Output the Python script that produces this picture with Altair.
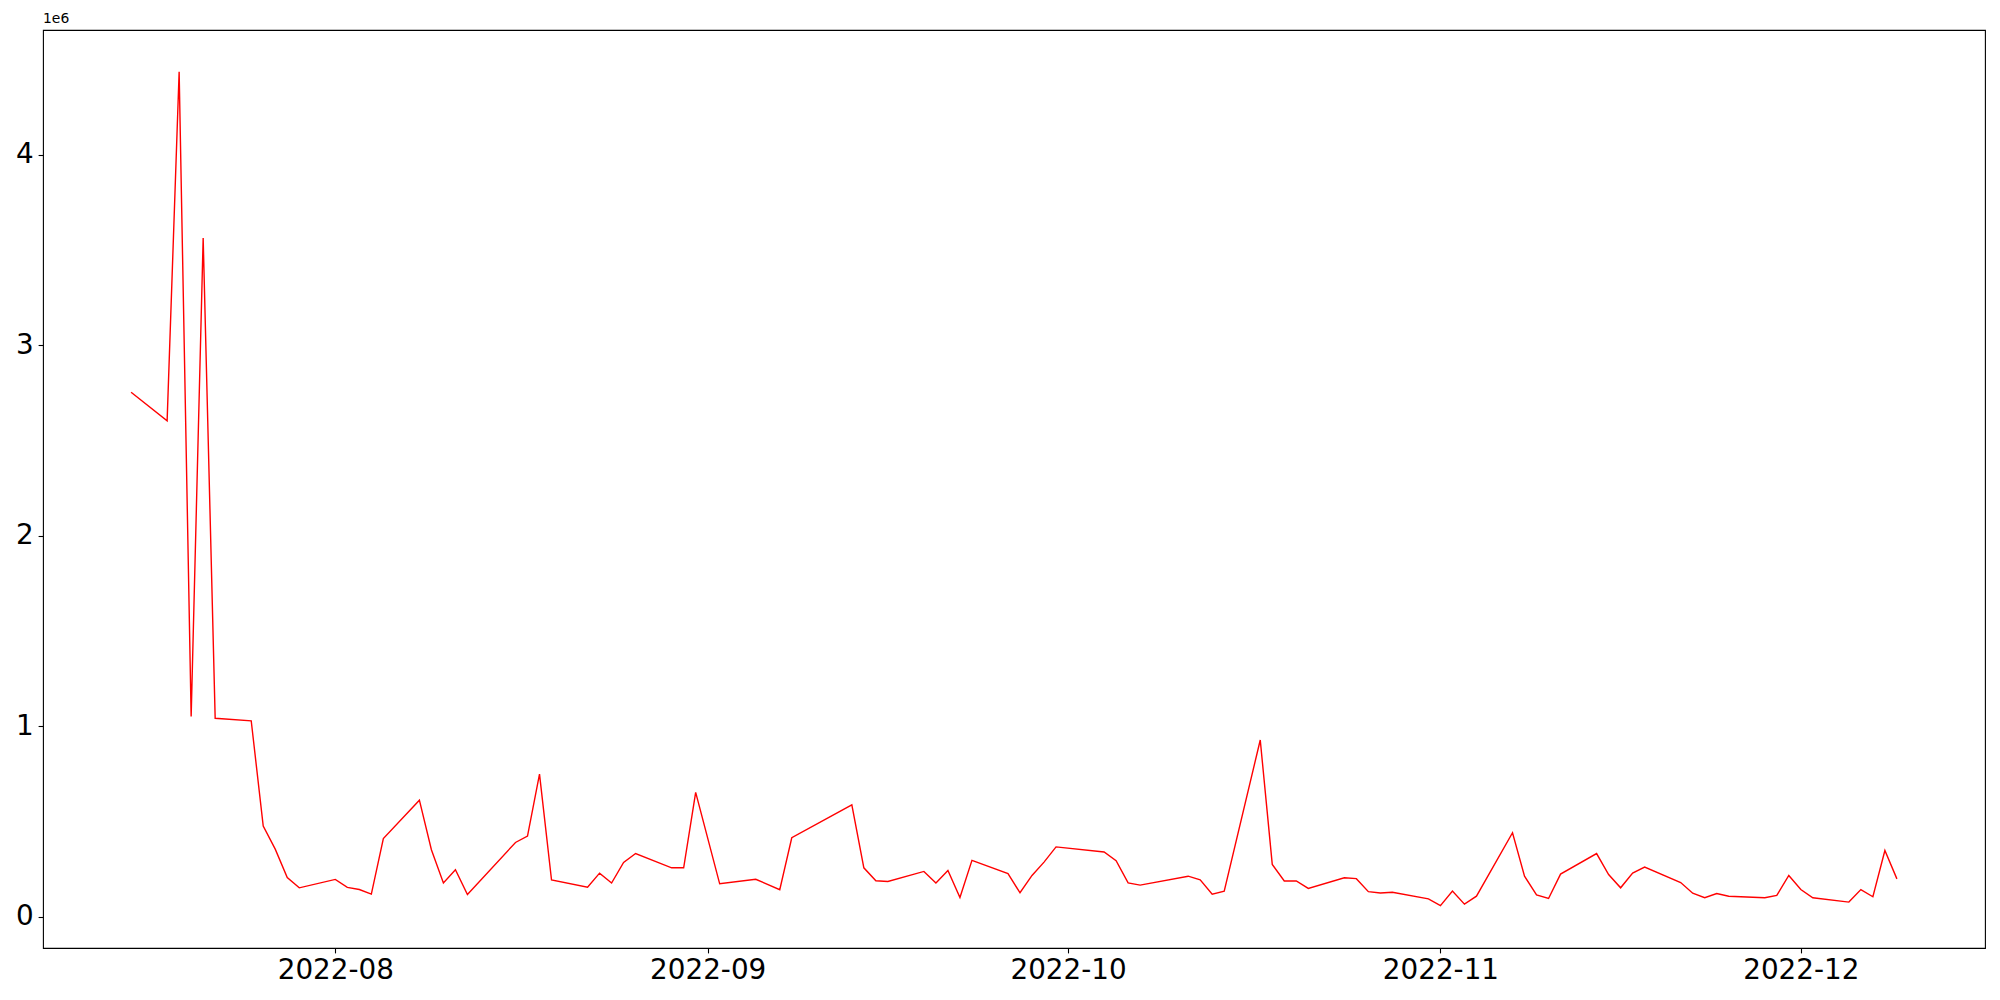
import altair as alt
import pandas as pd

dates = [
    "2022-07-15", "2022-07-18", "2022-07-19", "2022-07-20", "2022-07-21", "2022-07-22",
    "2022-07-25", "2022-07-26", "2022-07-27", "2022-07-28", "2022-07-29",
    "2022-08-01", "2022-08-02", "2022-08-03", "2022-08-04", "2022-08-05",
    "2022-08-08", "2022-08-09", "2022-08-10", "2022-08-11", "2022-08-12",
    "2022-08-16", "2022-08-17", "2022-08-18", "2022-08-19",
    "2022-08-22", "2022-08-23", "2022-08-24", "2022-08-25", "2022-08-26",
    "2022-08-29", "2022-08-30", "2022-08-31", "2022-09-02",
    "2022-09-05", "2022-09-07", "2022-09-08",
    "2022-09-13", "2022-09-14", "2022-09-15", "2022-09-16",
    "2022-09-19", "2022-09-20", "2022-09-21", "2022-09-22", "2022-09-23",
    "2022-09-26", "2022-09-27", "2022-09-28", "2022-09-29", "2022-09-30",
    "2022-10-04", "2022-10-05", "2022-10-06", "2022-10-07",
    "2022-10-11", "2022-10-12", "2022-10-13", "2022-10-14",
    "2022-10-17", "2022-10-18", "2022-10-19", "2022-10-20", "2022-10-21",
    "2022-10-24", "2022-10-25", "2022-10-26", "2022-10-27", "2022-10-28",
    "2022-10-31", "2022-11-01", "2022-11-02", "2022-11-03", "2022-11-04",
    "2022-11-07", "2022-11-08", "2022-11-09", "2022-11-10", "2022-11-11",
    "2022-11-14", "2022-11-15", "2022-11-16", "2022-11-17", "2022-11-18",
    "2022-11-21", "2022-11-22", "2022-11-23", "2022-11-24", "2022-11-25",
    "2022-11-28", "2022-11-29", "2022-11-30", "2022-12-01", "2022-12-02",
    "2022-12-05", "2022-12-06", "2022-12-07", "2022-12-08", "2022-12-09",
]

values = [
    2754000, 2604000, 4437000, 1051000, 3564000, 1042000,
    1029000, 476000, 355000, 206000, 152000,
    196000, 154000, 143000, 119000, 411000,
    612000, 352000, 178000, 247000, 117000,
    390000, 424000, 749000, 193000,
    155000, 229000, 177000, 285000, 332000,
    257000, 257000, 653000, 173000,
    197000, 142000, 415000,
    588000, 257000, 189000, 185000,
    238000, 177000, 243000, 101000, 296000,
    227000, 126000, 217000, 287000, 367000,
    340000, 294000, 178000, 166000,
    213000, 194000, 119000, 135000,
    928000, 275000, 188000, 188000, 149000,
    205000, 200000, 132000, 125000, 129000,
    94000, 58000, 135000, 66000, 108000,
    441000, 213000, 115000, 96000, 224000,
    332000, 222000, 152000, 229000, 261000,
    180000, 124000, 100000, 122000, 108000,
    100000, 112000, 217000, 143000, 100000,
    77000, 143000, 105000, 348000, 199000,
]

y_ticks = [0, 1000000, 2000000, 3000000, 4000000]
x_tick_months = [8, 9, 10, 11, 12]

df = pd.DataFrame({"date": dates, "value": values})

FONT = "DejaVu Sans"

x_axis = alt.Axis(
    values=[alt.DateTime(year=2022, month=m, date=1, utc=True) for m in x_tick_months],
    labelExpr="utcFormat(datum.value, '%Y-%m')",
    title=None, grid=False, domain=False,
    ticks=True, tickSize=4.9, tickWidth=1.1, tickColor="black",
    labelFontSize=27.8, labelFont=FONT, labelColor="black",
    labelPadding=4, labelFlush=False,
)

y_axis = alt.Axis(
    values=y_ticks,
    labelExpr="format(datum.value / 1000000, 'd')",
    title=None, grid=False, domain=False,
    ticks=True, tickSize=4.9, tickWidth=1.1, tickColor="black",
    labelFontSize=27.8, labelFont=FONT, labelColor="black",
    labelPadding=5, labelFlush=False,
)

chart = (
    alt.Chart(df)
    .mark_line(color="#ff0000", strokeWidth=1.4)
    .encode(
        x=alt.X(
            "date:T",
            scale=alt.Scale(
                type="utc",
                domain=[
                    alt.DateTime(year=2022, month=7, date=7, hours=16, utc=True),
                    alt.DateTime(year=2022, month=12, date=16, hours=8, utc=True),
                ],
                nice=False,
            ),
            axis=x_axis,
        ),
        y=alt.Y(
            "value:Q",
            scale=alt.Scale(domain=[-164000, 4656000], nice=False, zero=False),
            axis=y_axis,
        ),
    )
    .properties(
        width=1942,
        height=918,
        padding={"left": 35, "top": 22, "right": 5, "bottom": 42},
        autosize=alt.AutoSizeParams(type="none"),
        background="white",
        title=alt.TitleParams(
            "1e6", anchor="start", frame="group", fontSize=13.9,
            fontWeight="normal", font=FONT, color="black", offset=4,
        ),
    )
    .configure_view(stroke="black", strokeWidth=1.1)
)

chart.save("out.html", embed_options={"renderer": "svg", "actions": False})
